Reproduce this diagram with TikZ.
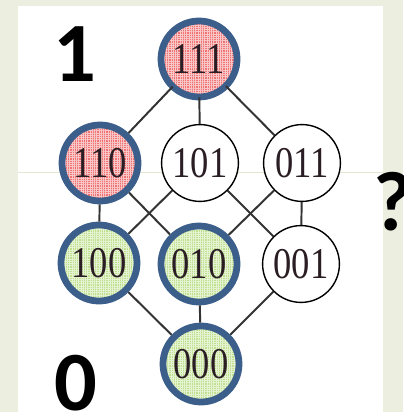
\documentclass[tikz,border=0pt]{standalone}
\usepackage{fontspec}
\setmainfont{Liberation Serif}
\newfontfamily\markfont{Carlito}
\usetikzlibrary{patterns.meta}

\definecolor{bgcol}{HTML}{ECEFDF}
\definecolor{seamcol}{HTML}{E4E8D2}
\definecolor{ringcol}{HTML}{3B5E8A}
\definecolor{hotcol}{HTML}{F07474}
\definecolor{coldcol}{HTML}{BFE08E}
\definecolor{edgecol}{HTML}{333333}
\definecolor{bitcol}{HTML}{2A1E24}

\newcommand{\bits}[1]{\scalebox{1}[1.2]{#1}}

\tikzset{
    bit/.style={circle, draw, minimum size=1.92cm, inner sep=0pt, line width=1pt,
        fill=white, text=bitcol, font=\fontsize{26}{26}\selectfont},
    hot/.style={bit, minimum size=1.9cm, line width=4.8pt, draw=ringcol,
        preaction={fill=hotcol},
        pattern={Hatch[angle=0, distance=1.6pt, line width=0.45pt]}, pattern color=white!60!hotcol},
    cold/.style={bit, minimum size=1.9cm, line width=4.8pt, draw=ringcol,
        preaction={fill=coldcol},
        pattern={Hatch[angle=0, distance=1.6pt, line width=0.45pt]}, pattern color=white!60!coldcol},
    plain/.style={bit},
    link/.style={edgecol, line width=1.4pt},
    bigmark/.style={font=\markfont\bfseries\fontsize{60}{60}\selectfont, inner sep=0pt, anchor=base}
}

\begin{document}
\begin{tikzpicture}[x=0.025cm,y=-0.025cm]
\useasboundingbox (0,0) rectangle (403,412);
\fill[bgcol] (0,0) rectangle (403,412);
\fill[white] (18,6) rectangle (383,412);
\draw[seamcol] (18,172) -- (383,172);

% the cube lattice
\foreach \name/\x/\y/\kind in {111/199/59/hot, 110/100/163/hot, 101/200/163/plain, 011/302/163/plain,
    100/99/263/cold, 010/199/264/cold, 001/301/264/plain, 000/201/364/cold} {
    \node[\kind] (b\name) at (\x,\y) {\bits{\name}};
}

\foreach \a/\b in {111/110, 111/101, 111/011, 110/100, 110/010, 101/100, 101/001,
    011/010, 011/001, 100/000, 010/000, 001/000} {
    \draw[link] (b\a) -- (b\b);
}

\node[bigmark] (one) at (75,82) {1};
\node[bigmark] (zero) at (76,410) {0};
\node[bigmark, anchor=base west] (what) at (373,230) {?};
\end{tikzpicture}
\end{document}
